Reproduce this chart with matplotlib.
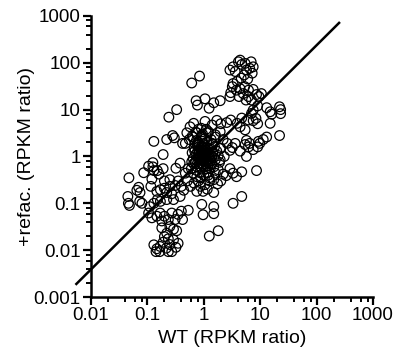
import matplotlib
matplotlib.use("Agg")
import matplotlib.pyplot as plt
import numpy as np
from matplotlib.ticker import LogLocator, FixedFormatter, FixedLocator, NullFormatter

plt.rcParams["font.family"] = ["Liberation Sans", "DejaVu Sans"]

# far-left group
left_wt = [0.047, 0.045, 0.046, 0.048, 0.065, 0.074, 0.073, 0.08, 0.086, 0.07]
left_refac = [0.35, 0.14, 0.10, 0.09, 0.19, 0.17, 0.11, 0.10, 0.45, 0.22]

# scattered points above the diagonal, low WT
upleft_wt = [0.13, 0.125, 0.125, 0.13, 0.19, 0.19, 0.22, 0.24, 0.33, 0.28, 0.30,
             0.32, 0.42, 0.38, 0.25, 0.16, 0.115, 0.15, 0.105, 0.12]
upleft_refac = [2.1, 0.74, 0.6, 0.5, 1.1, 0.55, 2.3, 6.9, 10.0, 2.8, 2.5,
                0.56, 1.9, 0.72, 0.32, 0.42, 0.23, 0.5, 0.62, 0.33]

# high +refac., mid WT
upmid_wt = [0.61, 0.84, 0.73, 0.77, 1.05, 1.24, 1.95, 2.9, 1.5]
upmid_refac = [37, 52, 15.5, 12.5, 17, 10.7, 15.5, 19, 14]

# top-right group
upright_wt = [2.9, 3.3, 3.6, 4.1, 4.4, 4.7, 5.4, 6.5, 6.9, 7.5, 5.7, 5.2, 4.6, 6.0,
              3.3, 3.2, 3.8, 4.4, 5.3, 6.2, 7.5, 8.6, 6.2, 5.0, 7.0, 9.5, 10.5, 4.2, 5.6,
              3.0, 3.9, 7.2]
upright_refac = [70, 82, 65, 105, 114, 92, 97, 76, 105, 82, 70, 55, 47, 45,
                 36, 31, 26, 28, 31, 26, 27, 21, 19, 22, 16, 19, 22, 19, 16,
                 23, 40, 60]

# right group
right_wt = [13, 15, 16, 22, 23, 23, 15, 13, 22, 9.3, 9.8, 9.0, 6.5, 5.7, 5.4,
            8.4, 7.5, 9.0, 5.7, 8.6, 5.4, 4.4, 3.9, 7.5, 7.0, 9.0, 4.7, 3.6, 3.2,
            2.9, 4.4, 3.3, 3.8, 4.7, 3.3, 4.7, 6.2, 7.5, 11.3, 6.2]
right_refac = [11, 9, 8, 11.5, 10, 8.2, 5.1, 2.6, 2.8, 2.1, 1.9, 1.6, 1.9, 2.2, 1.8,
               6.5, 5.8, 5.0, 1.0, 0.5, 3.7, 4.3, 5.1, 9.8, 8.3, 12, 6.6, 1.9, 1.55,
               1.35, 1.3, 0.44, 0.37, 0.47, 0.10, 0.14, 1.6, 1.4, 2.3, 6.0]

# dense centre around (1, 1)
centre_wt = [0.62, 0.65, 0.68, 0.70, 0.72, 0.74, 0.76, 0.78, 0.80, 0.82, 0.84, 0.86,
             0.88, 0.90, 0.92, 0.94, 0.96, 0.98, 1.0, 1.02, 1.04, 1.06, 1.08, 1.1,
             1.12, 1.15, 1.18, 1.2, 1.25, 1.3, 1.35, 1.4, 1.45, 1.5, 1.55, 1.6, 1.7,
             1.8, 1.9, 2.0, 0.70, 0.75, 0.80, 0.85, 0.90, 0.95, 1.0, 1.05, 1.1, 1.15,
             1.2, 1.3, 1.4, 1.5, 0.60, 0.65, 0.88, 1.0, 1.25, 1.6, 0.72, 0.90, 1.1,
             0.78, 0.92, 1.05, 0.97, 0.83, 1.12, 1.28,
             0.74, 0.81, 0.87, 0.93, 0.99, 1.03, 1.09, 1.16, 1.22, 1.33, 0.69, 0.77,
             0.85, 0.91, 1.0, 1.07, 1.14, 1.24, 1.38, 0.8, 0.95, 1.18, 0.66, 1.45]
centre_refac = [1.2, 0.9, 1.5, 0.75, 1.1, 2.2, 0.6, 1.3, 0.95, 1.8, 0.7, 1.05,
                1.4, 0.85, 2.6, 1.15, 0.65, 1.0, 1.3, 0.8, 1.7, 0.95, 1.2, 0.55,
                2.0, 1.0, 0.75, 1.45, 0.9, 1.1, 2.3, 0.7, 1.25, 0.95, 1.6, 0.85, 1.3,
                1.05, 0.75, 1.5, 1.9, 0.5, 1.6, 0.45, 1.2, 3.0, 0.6, 2.4, 1.35, 0.45,
                3.2, 0.55, 1.9, 0.6, 0.55, 2.6, 0.35, 0.4, 0.35, 2.6, 3.3, 4.0, 3.8,
                0.9, 0.98, 1.05, 1.6, 1.25, 0.85, 1.5,
                0.85, 1.15, 0.62, 1.35, 0.78, 1.12, 0.68, 1.55, 1.05, 0.8, 1.3, 1.75,
                0.9, 1.65, 0.88, 1.4, 1.2, 0.72, 1.0, 2.0, 2.1, 0.62, 0.7, 1.8]

# band just above the centre
above_wt = [0.57, 0.66, 0.80, 1.05, 1.4, 1.7, 2.0, 2.55, 3.0, 0.50, 0.62, 0.75,
            0.92, 1.2, 1.6, 1.95, 0.47, 0.55, 2.2, 2.6, 1.95, 2.3, 1.95]
above_refac = [4.3, 5.1, 3.8, 5.6, 4.7, 5.9, 5.0, 5.3, 6.0, 3.2, 2.7, 3.2,
               2.8, 3.4, 2.9, 3.4, 1.9, 2.3, 2.3, 1.9, 1.5, 1.0, 0.85]

# band along the diagonal below the centre
diag_wt = [0.147, 0.17, 0.20, 0.22, 0.25, 0.27, 0.31, 0.35, 0.40, 0.44, 0.51, 0.58,
           0.67, 0.38, 0.29, 0.22, 0.17, 0.47, 0.53, 0.61, 0.75, 0.80, 0.87, 0.75,
           0.97, 0.65, 0.20, 0.11, 0.13, 0.15]
diag_refac = [0.18, 0.195, 0.21, 0.17, 0.23, 0.16, 0.24, 0.30, 0.23, 0.19, 0.30, 0.23,
              0.27, 0.14, 0.12, 0.12, 0.11, 0.44, 0.55, 0.77, 0.37, 0.30, 0.23, 0.18,
              0.18, 0.44, 0.30, 0.085, 0.10, 0.12]

# below the centre, higher WT
lowright_wt = [1.27, 1.5, 1.75, 2.0, 1.8, 2.2, 2.9, 2.5, 1.15, 1.5, 1.05, 1.2, 1.6,
               0.92, 0.97, 1.5, 1.5, 1.25, 1.8]
lowright_refac = [0.30, 0.32, 0.26, 0.30, 0.52, 0.42, 0.55, 0.39, 0.20, 0.17, 0.25,
                  0.40, 0.44, 0.095, 0.057, 0.06, 0.085, 0.02, 0.026]

# low group, small WT and very low +refac.
lowleft_wt = [0.105, 0.12, 0.147, 0.168, 0.18, 0.20, 0.235, 0.27, 0.31, 0.35, 0.40,
              0.42, 0.53, 0.25, 0.29, 0.33, 0.18, 0.22,
              0.13, 0.147, 0.142, 0.168, 0.19, 0.215, 0.235, 0.25, 0.29, 0.32, 0.35,
              0.20, 0.235, 0.27, 0.165]
lowleft_refac = [0.062, 0.049, 0.053, 0.062, 0.042, 0.053, 0.045, 0.062, 0.045, 0.058,
                 0.068, 0.045, 0.071, 0.032, 0.028, 0.026, 0.030, 0.023,
                 0.013, 0.0107, 0.0093, 0.012, 0.0148, 0.011, 0.0093, 0.0132, 0.0166,
                 0.0115, 0.014, 0.0195, 0.0175, 0.0093, 0.0093]

# fitted line, drawn past the y axis
line_wt = [0.0055, 250]
line_refac = [0.0019, 710]

groups = [
    (left_wt, left_refac),
    (upleft_wt, upleft_refac),
    (upmid_wt, upmid_refac),
    (upright_wt, upright_refac),
    (right_wt, right_refac),
    (centre_wt, centre_refac),
    (above_wt, above_refac),
    (diag_wt, diag_refac),
    (lowright_wt, lowright_refac),
    (lowleft_wt, lowleft_refac),
]

fig = plt.figure(figsize=(3.95, 3.54), dpi=100)
ax = fig.add_axes([0.2304, 0.161, 0.714, 0.794])

for wt, refac in groups:
    ax.scatter(wt, refac, s=48, facecolors="none", edgecolors="black",
               linewidths=0.9, zorder=3)

ax.plot(line_wt, line_refac, color="black", linewidth=1.8, clip_on=False, zorder=4)

ax.set_xscale("log")
ax.set_yscale("log")
ax.set_xlim(0.01, 1000)
ax.set_ylim(0.001, 1000)

xticks = [0.01, 0.1, 1, 10, 100, 1000]
yticks = [0.001, 0.01, 0.1, 1, 10, 100, 1000]
ax.xaxis.set_major_locator(FixedLocator(xticks))
ax.xaxis.set_major_formatter(FixedFormatter(["0.01", "0.1", "1", "10", "100", "1000"]))
ax.yaxis.set_major_locator(FixedLocator(yticks))
ax.yaxis.set_major_formatter(FixedFormatter(["0.001", "0.01", "0.1", "1", "10", "100", "1000"]))
for axis in (ax.xaxis, ax.yaxis):
    axis.set_minor_locator(LogLocator(base=10, subs=(2, 4, 6, 8), numticks=20))
    axis.set_minor_formatter(NullFormatter())

for side in ("top", "right"):
    ax.spines[side].set_visible(False)
for side in ("left", "bottom"):
    ax.spines[side].set_linewidth(1.8)

ax.tick_params(which="major", direction="out", length=6, width=1.6, labelsize=13.5, pad=1.5)
ax.tick_params(which="minor", direction="out", length=3.5, width=1.4)

ax.set_xlabel("WT (RPKM ratio)", fontsize=14, labelpad=4)
ax.set_ylabel("+refac. (RPKM ratio)", fontsize=14, labelpad=-1)

fig.savefig("out.png", dpi=100)
